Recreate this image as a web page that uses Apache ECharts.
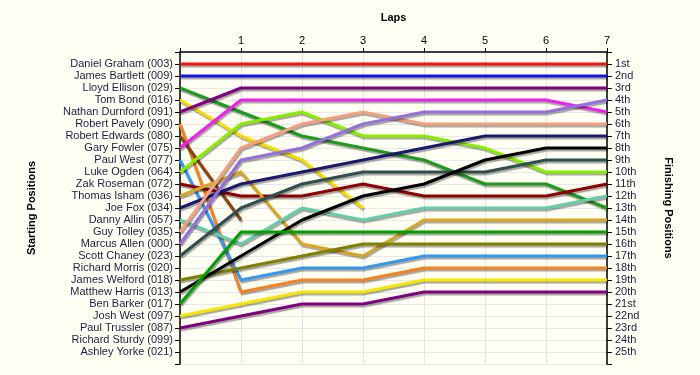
<!DOCTYPE html>
<html>
<head>
<meta charset="utf-8">
<script src="https://cdn.jsdelivr.net/npm/echarts@6/dist/echarts.min.js"></script>
<style>
  html, body { margin: 0; padding: 0; background: #fffff4; }
  #chart { width: 700px; height: 375px; }
</style>
</head>
<body>
<div id="chart"></div>
<script>
// lap numbers along the top
const laps = [0, 1, 2, 3, 4, 5, 6, 7];

// grid order = starting position
const drivers = [
  'Daniel Graham (003)', 'James Bartlett (009)', 'Lloyd Ellison (029)', 'Tom Bond (016)',
  'Nathan Durnford (091)', 'Robert Pavely (090)', 'Robert Edwards (080)', 'Gary Fowler (075)',
  'Paul West (077)', 'Luke Ogden (064)', 'Zak Roseman (072)', 'Thomas Isham (036)',
  'Joe Fox (034)', 'Danny Allin (057)', 'Guy Tolley (035)', 'Marcus Allen (000)',
  'Scott Chaney (023)', 'Richard Morris (020)', 'James Welford (018)', 'Matthew Harris (013)',
  'Ben Barker (017)', 'Josh West (097)', 'Paul Trussler (087)', 'Richard Sturdy (099)',
  'Ashley Yorke (021)'
];

const finishLabels = [
  '1st', '2nd', '3rd', '4th', '5th', '6th', '7th', '8th', '9th', '10th',
  '11th', '12th', '13th', '14th', '15th', '16th', '17th', '18th', '19th', '20th',
  '21st', '22nd', '23rd', '24th', '25th'
];

// position of each driver at lap 0..7 (shorter = retired, empty = did not start)
const positions = [
  [1, 1, 1, 1, 1, 1, 1, 1],
  [2, 2, 2, 2, 2, 2, 2, 2],
  [3, 5, 7, 8, 9, 11, 11, 13],
  [4, 7, 9, 13],
  [5, 3, 3, 3, 3, 3, 3, 3],
  [6, 20, 19, 19, 18, 18, 18, 18],
  [7, 14],
  [8, 4, 4, 4, 4, 4, 4, 5],
  [9, 19, 18, 18, 17, 17, 17, 17],
  [10, 6, 5, 7, 7, 8, 10, 10],
  [11, 12, 12, 11, 12, 12, 12, 11],
  [12, 10, 16, 17, 14, 14, 14, 14],
  [13, 11, 10, 9, 8, 7, 7, 7],
  [14, 16, 13, 14, 13, 13, 13, 12],
  [15, 8, 6, 5, 6, 6, 6, 6],
  [16, 9, 8, 6, 5, 5, 5, 4],
  [17, 13, 11, 10, 10, 10, 9, 9],
  [],
  [19, 18, 17, 16, 16, 16, 16, 16],
  [20, 17, 14, 12, 11, 9, 8, 8],
  [21, 15, 15, 15, 15, 15, 15, 15],
  [22, 21, 20, 20, 19, 19, 19, 19],
  [23, 22, 21, 21, 20, 20, 20, 20],
  [],
  []
];

const lineColors = [
  '#f01414', '#1414e6', '#1e9b1e', '#f5dc00', '#800080', '#f5821e', '#8b4513', '#f01ef0',
  '#3399f0', '#88ee00', '#900000', '#daa520', '#191970', '#66cdaa', '#f4a080', '#9370db',
  '#2f4f4f', '#808080', '#808000', '#000000', '#00a000', '#f5e600', '#800080', '#808080',
  '#808080'
];

const chart = echarts.init(document.getElementById('chart'), null, { renderer: 'canvas' });

const font = "'Liberation Sans', Arial, sans-serif";
const textCol = '#1c1c44';

let series = [];
for (let i = 0; i < drivers.length; i++) {
  series.push({
    name: drivers[i],
    type: 'line',
    data: positions[i].map((p, j) => [laps[j], p]),
    showSymbol: false,
    symbol: 'none',
    silent: true,
    lineStyle: {
      width: 3,
      color: lineColors[i],
      shadowColor: 'rgba(0,0,0,0.35)',
      shadowOffsetY: 2,
      shadowOffsetX: 1,
      shadowBlur: 1
    }
  });
}

const yBase = {
  type: 'value',
  inverse: true,
  min: 0,
  max: 26,
  interval: 1,
  axisLine: { show: true, lineStyle: { color: '#000', width: 1.5 } },
  axisTick: { show: true, length: 5, lineStyle: { color: '#000' } },
  nameLocation: 'middle',
  nameTextStyle: { fontFamily: font, fontWeight: 'bold', fontSize: 11, color: '#000' }
};

const option = {
  backgroundColor: '#fffff4',
  animation: false,
  grid: { left: 180, right: 93, top: 52, bottom: 11 },
  xAxis: {
    type: 'value',
    position: 'top',
    min: 0,
    max: 7,
    interval: 1,
    name: 'Laps',
    nameLocation: 'middle',
    nameGap: 29,
    nameTextStyle: { fontFamily: font, fontWeight: 'bold', fontSize: 11, color: '#000' },
    axisLine: { show: true, lineStyle: { color: '#000', width: 1.5 } },
    axisTick: { show: true, length: 4, lineStyle: { color: '#000' } },
    axisLabel: {
      fontFamily: font, fontSize: 11, color: '#000', margin: 6,
      formatter: v => (v === 0 ? '' : String(v))
    },
    splitLine: { show: true, lineStyle: { color: '#e4e4e4', width: 1 } }
  },
  yAxis: [
    Object.assign({}, yBase, {
      position: 'left',
      name: 'Starting Positions',
      nameGap: 143,
      nameRotate: 90,
      axisLabel: {
        fontFamily: font, fontSize: 11, color: textCol, margin: 7,
        formatter: v => drivers[v - 1] || ''
      },
      splitLine: { show: true, lineStyle: { color: '#e8e8e8', width: 1 } }
    }),
    Object.assign({}, yBase, {
      position: 'right',
      name: 'Finishing Positions',
      nameGap: 56,
      nameRotate: -90,
      axisLabel: {
        fontFamily: font, fontSize: 11, color: textCol, margin: 8,
        formatter: v => finishLabels[v - 1] || ''
      },
      splitLine: { show: false }
    })
  ],
  series: series
};

chart.setOption(option);
</script>
</body>
</html>
